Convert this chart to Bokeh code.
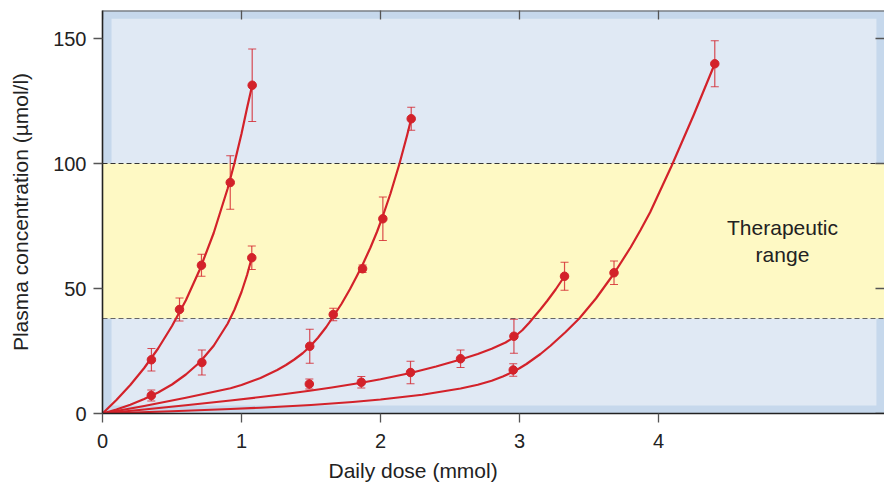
import math
from bokeh.plotting import figure
from bokeh.models import (Range1d, FixedTicker, BoxAnnotation, Span, Label,
                          Title, ColumnDataSource, Whisker, TeeHead)
from bokeh.embed import file_html
from bokeh.resources import INLINE

# ---------------- data ----------------
x_ticks = [0, 1, 2, 3, 4]
y_ticks = [0, 50, 100, 150]
therapeutic_low = 38
therapeutic_high = 100
x_label = "Daily dose (mmol)"
y_label = "Plasma concentration (\u00b5mol/l)"
band_label = "Therapeutic\nrange"

# measured points (dose, concentration, error)
a_dose = [0.352, 0.554, 0.712, 0.919, 1.077]
a_conc = [21.5, 41.6, 59.3, 92.4, 131.3]
a_err = [4.5, 4.6, 4.4, 10.7, 14.5]

b_dose = [0.351, 0.715, 1.074]
b_conc = [7.2, 20.4, 62.3]
b_err = [2.2, 5.0, 4.7]

c_dose = [1.491, 1.66, 1.871, 2.017, 2.221]
c_conc = [26.9, 39.6, 57.9, 77.9, 117.9]
c_err = [6.8, 2.5, 1.5, 8.7, 4.6]

d_dose = [1.488, 1.862, 2.216, 2.576, 2.96, 3.324]
d_conc = [11.8, 12.5, 16.4, 21.9, 30.9, 54.9]
d_err = [2.0, 2.3, 4.5, 3.5, 6.8, 5.6]

e_dose = [2.955, 3.68, 4.405]
e_conc = [17.4, 56.3, 139.9]
e_err = [2.5, 4.7, 9.2]

# fitted curves
a_curve_x = [0, 0.1, 0.2, 0.3, 0.4, 0.5, 0.6, 0.7, 0.8, 0.9, 0.95, 1.0, 1.04, 1.077]
a_curve_y = [0, 5.4, 11.4, 18.2, 26.0, 35.0, 45.3, 57.6, 72.2, 89.9, 100.3, 111.9, 122.2, 131.3]

b_curve_x = [0, 0.1, 0.2, 0.3, 0.4, 0.5, 0.6, 0.7, 0.8, 0.9, 0.95, 1.0, 1.04, 1.074]
b_curve_y = [0, 1.6, 3.5, 5.8, 8.4, 11.6, 15.6, 20.5, 27.1, 35.9, 41.6, 48.6, 55.4, 62.3]

c_curve_x = [0, 0.3, 0.6, 0.921, 1.0, 1.137, 1.257, 1.32, 1.38, 1.44, 1.491, 1.55, 1.61,
             1.66, 1.72, 1.78, 1.83, 1.871, 1.928, 1.975, 2.017, 2.072, 2.137, 2.192, 2.221]
c_curve_y = [0, 3.0, 6.3, 10.1, 11.4, 14.2, 17.4, 19.4, 21.6, 24.1, 26.7, 30.3, 34.6,
             38.8, 43.9, 49.7, 55.0, 59.5, 66.4, 72.7, 79.0, 88.0, 100.0, 111.4, 117.9]

d_curve_x = [0, 0.3, 0.6, 0.921, 1.137, 1.3, 1.49, 1.65, 1.862, 2.0, 2.216, 2.4, 2.576,
             2.7, 2.8, 2.9, 2.96, 3.02, 3.07, 3.15, 3.2, 3.26, 3.324]
d_curve_y = [0, 1.6, 3.3, 5.2, 6.6, 7.7, 9.1, 10.4, 12.3, 13.7, 16.2, 18.8, 21.6,
             23.8, 25.9, 28.4, 30.5, 33.3, 36.3, 41.6, 45.1, 49.6, 54.9]

e_curve_x = [0, 0.5, 0.921, 1.137, 1.5, 1.8, 2.0, 2.3, 2.576, 2.7, 2.8, 2.88, 2.954, 3.0,
             3.05, 3.151, 3.223, 3.33, 3.43, 3.55, 3.68, 3.8, 3.87, 3.94, 4.094, 4.254, 4.405]
e_curve_y = [0, 0.9, 1.8, 2.3, 3.4, 4.6, 5.6, 7.5, 10.0, 11.5, 13.1, 14.8, 16.7, 18.1,
             19.8, 23.8, 27.1, 32.5, 38.0, 46.0, 56.0, 66.5, 73.3, 80.5, 99.0, 119.5, 139.9]

# ---------------- style / layout constants ----------------
X_END = 5.626
Y_END = 161.2
INNER_RIGHT = 5.568
RED = "#d3222a"
BAND = "#c6d8ec"
INNER = "#e0e9f4"
YELLOW = "#fef9c4"
FONT = "Liberation Sans"
TXT = "#222222"
EDGE = "#555555"
LABEL_X, LABEL_Y = 4.892, 69

p = figure(width=884, height=487,
           x_range=Range1d(0, X_END), y_range=Range1d(0, Y_END),
           output_backend="svg", toolbar_location=None,
           min_border_left=102, min_border_right=0, min_border_top=10, min_border_bottom=74,
           background_fill_color=BAND, border_fill_color="white",
           outline_line_color=None)
p.xgrid.visible = False
p.ygrid.visible = False

# background panels
inner = BoxAnnotation(left=0.065, right=INNER_RIGHT, bottom=3.2, top=Y_END - 3.3,
                      fill_color=INNER, fill_alpha=1, line_color=None, level="underlay")
p.add_layout(inner)
band = BoxAnnotation(bottom=therapeutic_low, top=therapeutic_high,
                     fill_color=YELLOW, fill_alpha=1, line_color=None, level="underlay")
p.add_layout(band)
p.add_layout(Span(location=therapeutic_high, dimension="width", line_color="#333333",
                  line_dash="5 3", line_width=1.2, level="underlay"))
p.add_layout(Span(location=therapeutic_low, dimension="width", line_color="#666666",
                  line_dash="5 3", line_width=1.2, level="underlay"))
p.add_layout(Span(location=Y_END, dimension="width", line_color=EDGE, line_width=2))

# inward ticks on the top and right edges (clipped half-dashes)
p.scatter(x_ticks, [Y_END] * len(x_ticks), marker="dash", angle=math.pi / 2, size=18,
          line_color=EDGE, line_width=1.3)
p.scatter([X_END] * len(y_ticks), y_ticks, marker="dash", size=18,
          line_color=EDGE, line_width=1.3)

# error bars
series = [(a_dose, a_conc, a_err), (b_dose, b_conc, b_err), (c_dose, c_conc, c_err),
          (d_dose, d_conc, d_err), (e_dose, e_conc, e_err)]
for xs, ys, es in series:
    src = ColumnDataSource(dict(x=xs, upper=[y + e for y, e in zip(ys, es)],
                                lower=[y - e for y, e in zip(ys, es)]))
    w = Whisker(source=src, base="x", upper="upper", lower="lower", dimension="height",
                line_color=RED, line_alpha=0.8, line_width=1.2, level="underlay",
                upper_head=TeeHead(size=8, line_color=RED, line_alpha=0.8, line_width=1.2),
                lower_head=TeeHead(size=8, line_color=RED, line_alpha=0.8, line_width=1.2))
    p.add_layout(w)

# curves
for cx, cy in [(a_curve_x, a_curve_y), (b_curve_x, b_curve_y), (c_curve_x, c_curve_y),
               (d_curve_x, d_curve_y), (e_curve_x, e_curve_y)]:
    p.line(cx, cy, line_color=RED, line_width=2.2, line_join="round")

# points
for xs, ys, es in series:
    p.scatter(xs, ys, marker="circle", size=8.5, fill_color=RED, line_color=RED)

# band text
p.add_layout(Label(x=LABEL_X, y=LABEL_Y, text=band_label, text_align="center",
                   text_baseline="middle", text_font=FONT, text_font_size="21px",
                   text_color=TXT, text_line_height=1.17))

# axes
for ax in (p.xaxis[0], p.yaxis[0]):
    ax.minor_tick_line_color = None
    ax.major_tick_in = 0
    ax.major_tick_out = 9
    ax.major_tick_line_color = EDGE
    ax.major_tick_line_width = 1.3
    ax.major_label_text_font = FONT
    ax.major_label_text_font_size = "20px"
    ax.major_label_text_color = TXT
    ax.axis_line_color = "#222222"
    ax.axis_line_width = 1.6

p.xaxis.ticker = FixedTicker(ticks=x_ticks)
p.yaxis.ticker = FixedTicker(ticks=y_ticks)
p.xaxis.major_label_standoff = 11
p.yaxis.major_label_standoff = 7
p.yaxis.axis_label = y_label
p.yaxis.axis_label_text_font = FONT
p.yaxis.axis_label_text_font_size = "21px"
p.yaxis.axis_label_text_font_style = "normal"
p.yaxis.axis_label_text_color = TXT
p.yaxis.axis_label_standoff = 18

xt = Title(text=x_label, align="left", offset=226, text_font=FONT, text_font_size="21px",
           text_font_style="normal", text_color=TXT, standoff=12)
p.add_layout(xt, "below")

open("out.html", "w").write(file_html(p, INLINE))
